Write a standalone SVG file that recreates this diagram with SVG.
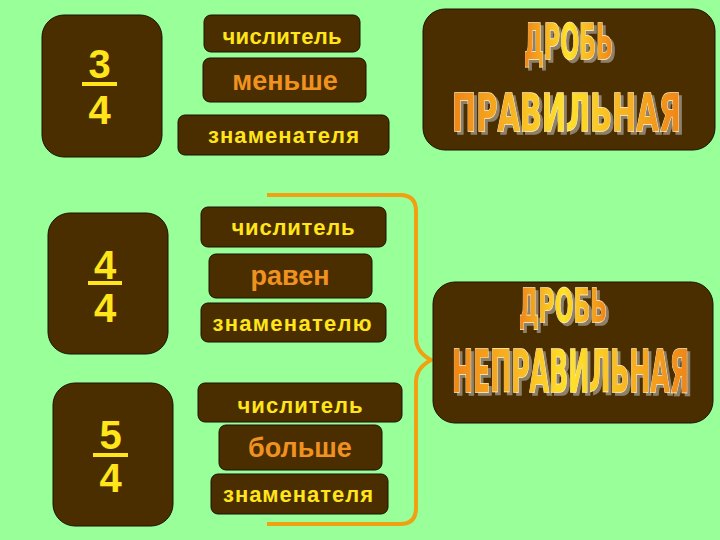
<svg xmlns="http://www.w3.org/2000/svg" width="720" height="540" viewBox="0 0 720 540">
<defs>
<linearGradient id="gold" x1="0" y1="0" x2="1" y2="0">
<stop offset="0" stop-color="#F08418"/>
<stop offset="0.5" stop-color="#FFE22A"/>
<stop offset="1" stop-color="#F08418"/>
</linearGradient>
<filter id="sh" x="-5%" y="-10%" width="115%" height="130%">
<feOffset in="SourceAlpha" dx="3" dy="3" result="o"/>
<feFlood flood-color="#8E806A"/>
<feComposite in2="o" operator="in" result="s"/>
<feMerge><feMergeNode in="s"/><feMergeNode in="SourceGraphic"/></feMerge>
</filter>
<style>
.box{fill:#4A2E00;stroke:#1a1000;stroke-width:1}
.dig{font-family:"Liberation Sans",Arial,sans-serif;font-weight:bold;font-size:40px;fill:#FFE51A;text-anchor:middle}
.bar{fill:#FFE51A}
.sm{font-family:"Liberation Sans",Arial,sans-serif;font-weight:bold;font-size:22px;fill:#FFE51A;text-anchor:middle}
.big{font-family:"Liberation Sans",Arial,sans-serif;font-weight:bold;font-size:27px;fill:#F0921F;text-anchor:middle}
.tg{filter:url(#sh)}
.ttl{font-family:"DejaVu Sans Condensed","DejaVu Sans",sans-serif;font-weight:bold;fill:url(#gold);stroke:#FFF3C0;stroke-width:0.6;paint-order:stroke}
.brace{fill:none;stroke:#F0A010;stroke-width:4;stroke-linejoin:round}
</style>
</defs>
<rect width="720" height="540" fill="#99FF99"/>

<g id="connectors">
<path class="brace" d="M267,195 L400,195 Q416,195 416,211 L416,338 Q416,352 431,360 Q416,368 416,382 L416,508 Q416,524 400,524 L267,524"/>
</g>

<g id="frac-3-4">
<rect class="box" x="42" y="15" width="120" height="142" rx="22"/>
<text class="dig" x="99.5" y="78">3</text>
<rect class="bar" x="82" y="82" width="35" height="4"/>
<text class="dig" x="99.5" y="124">4</text>
</g>
<g id="frac-4-4">
<rect class="box" x="48" y="213" width="120" height="141" rx="22"/>
<text class="dig" x="105" y="279">4</text>
<rect class="bar" x="88" y="281" width="34" height="4"/>
<text class="dig" x="105" y="322">4</text>
</g>
<g id="frac-5-4">
<rect class="box" x="53" y="383" width="120" height="143" rx="22"/>
<text class="dig" x="110.5" y="449">5</text>
<rect class="bar" x="93" y="453" width="35" height="4"/>
<text class="dig" x="110.5" y="492">4</text>
</g>

<g id="a1"><rect class="box" x="204" y="15" width="156" height="37" rx="7"/><text class="sm" x="282" y="44" textLength="119">числитель</text></g>
<g id="a2"><rect class="box" x="203" y="58" width="163" height="44" rx="7"/><text class="big" x="285" y="90">меньше</text></g>
<g id="a3"><rect class="box" x="178" y="115" width="211" height="40" rx="7"/><text class="sm" x="283.5" y="143" textLength="151">знаменателя</text></g>

<g id="b1"><rect class="box" x="201" y="207" width="185" height="40" rx="7"/><text class="sm" x="293" y="235" textLength="123">числитель</text></g>
<g id="b2"><rect class="box" x="209" y="254" width="163" height="44" rx="7"/><text class="big" x="290" y="285">равен</text></g>
<g id="b3"><rect class="box" x="201" y="303" width="185" height="39" rx="7"/><text class="sm" x="292" y="331" textLength="159">знаменателю</text></g>

<g id="c1"><rect class="box" x="198" y="383" width="204" height="39" rx="7"/><text class="sm" x="300" y="413" textLength="125">числитель</text></g>
<g id="c2"><rect class="box" x="219" y="425" width="163" height="45" rx="7"/><text class="big" x="300" y="457">больше</text></g>
<g id="c3"><rect class="box" x="211" y="474" width="177" height="40" rx="7"/><text class="sm" x="298" y="502" textLength="150">знаменателя</text></g>

<g id="proper">
<rect class="box" x="423" y="9" width="292" height="141" rx="22"/>
<g class="tg">
<text class="ttl" transform="translate(524,59) scale(1,2.25)" x="0" y="0" font-size="22" textLength="89" lengthAdjust="spacingAndGlyphs">ДРОБЬ</text>
<text class="ttl" transform="translate(452,131) scale(1,2.17)" x="0" y="0" font-size="24" textLength="229" lengthAdjust="spacingAndGlyphs">ПРАВИЛЬНАЯ</text>
</g>
</g>

<g id="improper">
<rect class="box" x="433" y="282" width="280" height="141" rx="22"/>
<g class="tg">
<text class="ttl" transform="translate(519,322) scale(1,2.12)" x="0" y="0" font-size="22" textLength="88" lengthAdjust="spacingAndGlyphs">ДРОБЬ</text>
<text class="ttl" transform="translate(452,392) scale(1,2.46)" x="0" y="0" font-size="24" textLength="237" lengthAdjust="spacingAndGlyphs">НЕПРАВИЛЬНАЯ</text>
</g>
</g>
</svg>
